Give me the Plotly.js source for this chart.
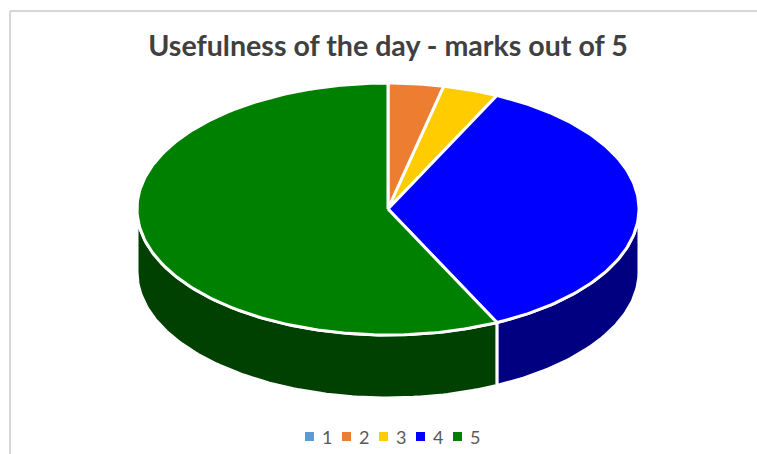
<!DOCTYPE html>
<html>
<head>
<meta charset="utf-8">
<script src="https://cdn.plot.ly/plotly-3.0.1.min.js"></script>
<style>html,body{margin:0;padding:0;background:#fff;overflow:hidden}#chart{width:757px;height:454px}</style>
</head>
<body>
<div id="chart"></div>
<script>
const categories = ['1', '2', '3', '4', '5'];
const responses = [0, 1, 1, 10, 16];
const topColors = ['#5B9BD5', '#ED7D31', '#FFCC00', '#0000FF', '#008000'];
const wallColors = ['#35597C', '#8B4A1D', '#967100', '#000080', '#004000'];
const chartTitle = 'Usefulness of the day - marks out of 5';

// pie geometry on a pixel-sized hidden axis pair
const cx = 388, cy = 209, rx = 251, ry = 126, depth = 63;
const W = 757, H = 454;
const rad = d => d * Math.PI / 180;
const px = d => cx + rx * Math.sin(rad(d));
const py = (d, off) => cy + off - ry * Math.cos(rad(d));

function arc(a, b, off) {
  const n = Math.max(2, Math.ceil(Math.abs(b - a)));
  const xs = [], ys = [];
  for (let i = 0; i <= n; i++) {
    const d = a + (b - a) * i / n;
    xs.push(px(d)); ys.push(py(d, off));
  }
  return {xs, ys};
}

const total = responses.reduce((s, v) => s + v, 0);
const spans = [];
let acc = 0;
responses.forEach(v => { const a = acc / total * 360; acc += v; spans.push([a, acc / total * 360]); });

const traces = [];
const border = {color: '#FFFFFF', width: 3};

// side walls (only the front half, 90..270 deg, faces the viewer)
responses.forEach((v, i) => {
  const a = Math.max(spans[i][0], 90), b = Math.min(spans[i][1], 270);
  if (v === 0 || b <= a) return;
  const top = arc(a, b, 0), bot = arc(b, a, depth);
  traces.push({
    type: 'scatter', mode: 'lines', fill: 'toself', fillcolor: wallColors[i],
    x: top.xs.concat(bot.xs, [top.xs[0]]), y: top.ys.concat(bot.ys, [top.ys[0]]),
    line: border, name: categories[i] + ' side', hoverinfo: 'skip'
  });
});

// top faces
responses.forEach((v, i) => {
  if (v === 0) return;
  const t = arc(spans[i][0], spans[i][1], 0);
  traces.push({
    type: 'scatter', mode: 'lines', fill: 'toself', fillcolor: topColors[i],
    x: [cx].concat(t.xs, [cx]), y: [cy].concat(t.ys, [cy]),
    line: border, name: categories[i], hoverinfo: 'skip'
  });
});

// key
const keyX0 = 309.5, keyStep = 37, keyY = 436.5;
categories.forEach((c, i) => {
  traces.push({
    type: 'scatter', mode: 'markers', x: [keyX0 + keyStep * i], y: [keyY],
    marker: {symbol: 'square', size: 9, color: topColors[i]},
    name: c, hoverinfo: 'skip'
  });
});
traces.push({
  type: 'scatter', mode: 'text',
  x: categories.map((c, i) => keyX0 + 12.5 + keyStep * i),
  y: categories.map(() => keyY + 2.5),
  text: categories, textposition: 'middle right',
  textfont: {family: 'Lato, sans-serif', size: 18, color: '#595959'},
  hoverinfo: 'skip'
});

const layout = {
  width: W, height: H,
  margin: {l: 0, r: 0, t: 0, b: 0},
  paper_bgcolor: '#FFFFFF', plot_bgcolor: '#FFFFFF',
  showlegend: false,
  title: {
    text: chartTitle, x: cx / W, xanchor: 'center', y: 1 - 46 / H, yanchor: 'middle',
    font: {family: 'Lato, sans-serif', size: 28.6, weight: 700, color: '#404040'}
  },
  xaxis: {range: [0, W], visible: false, fixedrange: true},
  yaxis: {range: [H, 0], visible: false, fixedrange: true},
  shapes: [
    {type: 'line', xref: 'x', yref: 'y', x0: 10, x1: 10, y0: 11, y1: H, line: {color: '#C9C9C9', width: 1.5}},
    {type: 'line', xref: 'x', yref: 'y', x0: 10, x1: W, y0: 11, y1: 11, line: {color: '#C9C9C9', width: 1.5}}
  ]
};
Plotly.newPlot('chart', traces, layout, {displayModeBar: false, staticPlot: true});
</script>
</body>
</html>
